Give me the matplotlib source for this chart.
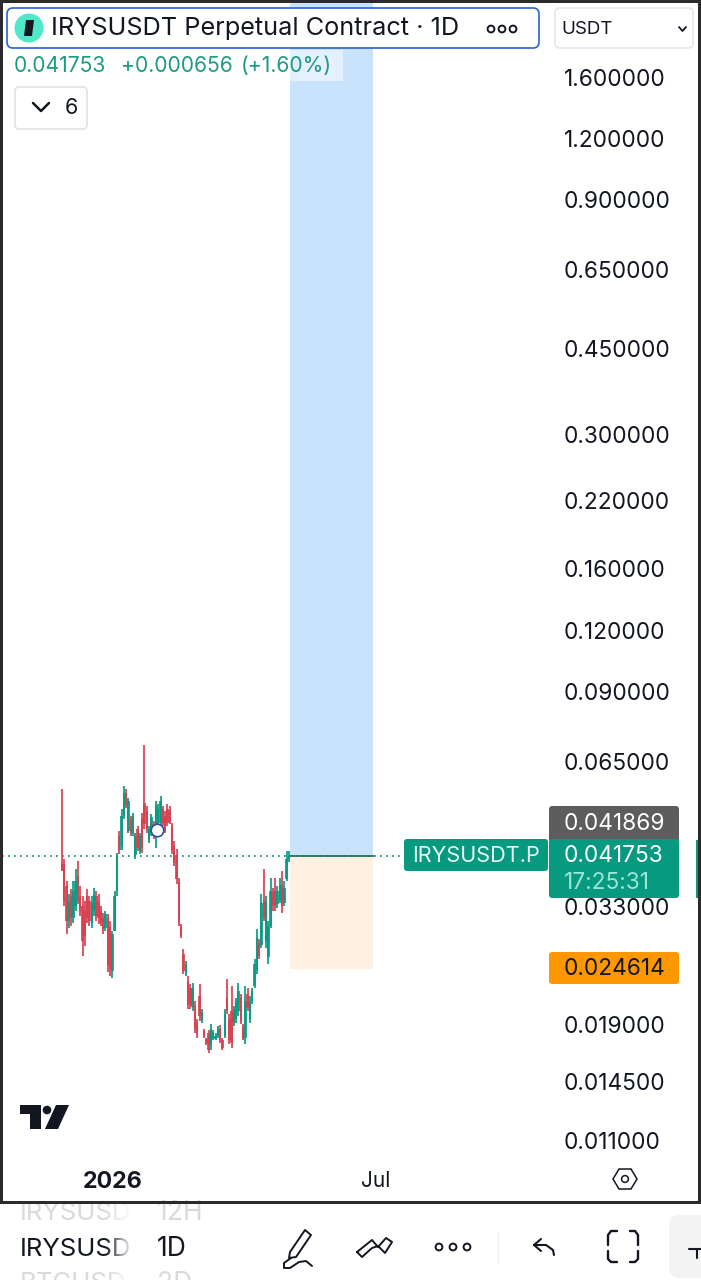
# libraries
import numpy as np
import matplotlib
matplotlib.use('Agg')
import matplotlib.pyplot as plt
from matplotlib.patches import FancyBboxPatch, Rectangle, Circle, Polygon

plt.rcParams['font.family'] = ['Inter', 'DejaVu Sans']

# Data
highs = [.0572,.0412,.0371,.0349,.0357,.0371,.0393,.0408,.0362,.0346,
         .0338,.0357,.0346,.0346,.0359,.0354,.0349,.0330,.0320,.0323,
         .0318,.0308,.0294,.0354,.0424,.0469,.0521,.0580,.0572,.0548,
         .0504,.0511,.0464,.0480,.0464,.0511,.0702,.0528,.0480,.0509,
         .0492,.0540,.0533,.0553,.0528,.0516,.0533,.0528,.0487,.0448,
         .0432,.0376,.0304,.0270,.0255,.0238,.0229,.0230,.0212,.0195,
         .0229,.0204,.0186,.0178,.0185,.0190,.0185,.0182,.0188,.0189,
         .0178,.0204,.0235,.0199,.0227,.0207,.0215,.0230,.0219,.0190,
         .0227,.0225,.0217,.0225,.0258,.0297,.0283,.0349,.0393,.0346,
         .0308,.0376,.0359,.0376,.0362,.0376,.0389,.0371,.0428,.0428]
lows = [.0389,.0330,.0290,.0298,.0301,.0305,.0323,.0333,.0315,.0261,
        .0274,.0305,.0301,.0298,.0315,.0308,.0304,.0301,.0290,.0294,
        .0242,.0238,.0236,.0294,.0354,.0422,.0438,.0497,.0523,.0464,
        .0458,.0458,.0412,.0428,.0422,.0424,.0474,.0464,.0444,.0458,
        .0452,.0434,.0469,.0480,.0480,.0464,.0480,.0485,.0422,.0398,
        .0366,.0301,.0284,.0240,.0238,.0204,.0204,.0202,.0182,.0178,
        .0193,.0191,.0178,.0172,.0166,.0168,.0176,.0176,.0178,.0174,
        .0168,.0178,.0199,.0173,.0170,.0188,.0191,.0197,.0190,.0176,
        .0173,.0202,.0191,.0209,.0225,.0240,.0258,.0271,.0308,.0271,
        .0252,.0298,.0323,.0323,.0327,.0335,.0320,.0330,.0371,.0405]
opens = [.0402,.0402,.0362,.0308,.0346,.0312,.0330,.0380,.0346,.0330,
         .0323,.0346,.0338,.0305,.0323,.0346,.0338,.0323,.0312,.0298,
         .0312,.0300,.0244,.0294,.0346,.0458,.0430,.0504,.0560,.0470,
         .0497,.0464,.0420,.0474,.0428,.0497,.0535,.0516,.0450,.0464,
         .0484,.0458,.0474,.0486,.0521,.0504,.0521,.0516,.0480,.0438,
         .0420,.0369,.0300,.0264,.0241,.0233,.0225,.0206,.0207,.0191,
         .0217,.0194,.0184,.0177,.0182,.0172,.0178,.0177,.0180,.0186,
         .0176,.0180,.0215,.0195,.0202,.0191,.0195,.0202,.0215,.0187,
         .0178,.0219,.0194,.0212,.0227,.0245,.0278,.0275,.0340,.0280,
         .0260,.0301,.0354,.0354,.0333,.0340,.0365,.0335,.0375,.0411]
closes = [.0390,.0338,.0308,.0338,.0312,.0354,.0371,.0338,.0323,.0280,
          .0287,.0312,.0308,.0335,.0350,.0315,.0312,.0305,.0297,.0318,
          .0250,.0246,.0290,.0346,.0415,.0430,.0504,.0560,.0530,.0540,
          .0464,.0504,.0458,.0433,.0458,.0433,.0485,.0474,.0474,.0500,
          .0458,.0528,.0521,.0540,.0486,.0470,.0486,.0490,.0430,.0404,
          .0375,.0306,.0287,.0244,.0252,.0208,.0208,.0225,.0186,.0181,
          .0197,.0201,.0180,.0174,.0168,.0186,.0183,.0180,.0186,.0176,
          .0170,.0199,.0202,.0176,.0174,.0204,.0212,.0222,.0193,.0178,
          .0212,.0205,.0212,.0222,.0252,.0284,.0261,.0335,.0312,.0338,
          .0301,.0354,.0330,.0330,.0354,.0365,.0330,.0360,.0411,.041753]

price_ticks = [1.6, 1.2, 0.9, 0.65, 0.45, 0.3, 0.22, 0.16, 0.12, 0.09,
               0.065, 0.033, 0.019, 0.0145, 0.011]
time_ticks = [22, 137]
time_labels = ['2026', 'Jul']

last_price = 0.041753
stop_price = 0.024614
green = '#089981'
red = '#d63f50'
frame = '#2b2b2b'

# plot
W, H = 701, 1280
fig = plt.figure(figsize=(W / 100, H / 100), dpi=100, facecolor='white')
ax = fig.add_axes([3 / W, 1 - 1201 / H, 695 / W, 1198 / H])

opens_a = np.array(opens)
closes_a = np.array(closes)
r = np.arange(len(opens))
colors = [green if c >= o else red for o, c in zip(opens, closes)]

ax.vlines(r, lows, highs, colors=colors, linewidth=1.5, alpha=0.85, zorder=3)
ax.bar(r, np.abs(closes_a - opens_a), bottom=np.minimum(opens_a, closes_a),
       width=1.05, color=colors, linewidth=0, alpha=0.85, zorder=3)

# long position box
box_x = [99.4, 135.6]
ax.fill_between(box_x, last_price, 3, color='#c8e3fb', linewidth=0, zorder=1)
ax.fill_between(box_x, stop_price, last_price, color='#fff1e2', linewidth=0, zorder=1)
ax.plot(box_x, [last_price, last_price], color='#2d6f62', lw=1.3, zorder=2)
ax.plot([-26, 149], [last_price, last_price], color='#0b7f6c', lw=1.2, ls=(0, (1, 2.6)), zorder=2)
ax.plot([41.4], [0.0471], marker='o', ms=9, mfc='white', mec='#2a4fb0', mew=1.2, zorder=4)

ax.set_yscale('log')
ax.set_xlim(-25.7, 277.4)
ax.set_ylim(0.0083, 2.263)
ax.yaxis.tick_right()
ax.set_yticks(price_ticks)
ax.set_yticklabels(['%.6f' % p for p in price_ticks])
ax.yaxis.set_minor_locator(matplotlib.ticker.NullLocator())
ax.tick_params(axis='y', length=0, pad=-96.5, labelsize=16.3, labelcolor='#131722')
ax.set_xticks(time_ticks)
ax.set_xticklabels(time_labels)
ax.tick_params(axis='x', length=0, pad=-21.5, labelsize=15, labelcolor='#131722')
ax.get_xticklabels()[0].set_fontweight('bold')
ax.get_xticklabels()[0].set_fontsize(16.7)
for s in ax.spines.values():
    s.set_visible(False)

# overlay in pixels for the app chrome
ui = fig.add_axes([0, 0, 1, 1], zorder=10)
ui.set_xlim(0, W)
ui.set_ylim(H, 0)
ui.axis('off')
ui.patch.set_alpha(0)


def rbox(x0, y0, x1, y1, fc='white', ec='none', lw=1, rad=4, z=5, alpha=None):
    ui.add_patch(FancyBboxPatch((x0 + rad, y0 + rad), x1 - x0 - 2 * rad, y1 - y0 - 2 * rad,
                                boxstyle='round,pad=%d' % rad, fc=fc, ec=ec, lw=lw, zorder=z, alpha=alpha))


def label(x, y, s, size=16, color='#131722', ha='left', z=6, **kw):
    ui.text(x, y + 1, s, fontsize=size, color=color, ha=ha, va='center', zorder=z, **kw)


def stroke(xs, ys, lw=1.6, color='#131722', z=6):
    ui.plot(xs, ys, color=color, lw=lw, zorder=z, solid_capstyle='round', solid_joinstyle='round')


# header
rbox(7, 8, 539, 48, ec='#3b6ccf', lw=1.3, rad=6)
ui.add_patch(Circle((29, 28), 14.5, fc='#4fe8c8', ec='none', zorder=6))
ui.add_patch(Polygon([[26, 20], [34, 20], [32, 36], [24, 36]], fc='#131722', ec='none', zorder=7))
label(51, 28, 'IRYSUSDT Perpetual Contract · 1D', size=18.2)
for cx in (491, 502, 513):
    ui.add_patch(Circle((cx, 29), 3.4, fc='white', ec='#131722', lw=1.4, zorder=6))
rbox(555, 8, 693, 48, ec='#e0e3eb', lw=1, rad=5)
label(561, 28, 'USDT', size=13.5)
stroke([679, 682.5, 686], [27, 31, 27], lw=1.3)

# legend line
ui.add_patch(Rectangle((290, 50), 53, 31, fc='#e4f1fd', ec='none', zorder=4))
label(14, 65, '0.041753', size=15.2, color='#1f9a83')
label(121, 65, '+0.000656', size=15.2, color='#1f9a83')
label(241, 65, '(+1.60%)', size=15.2, color='#1f9a83')
rbox(15, 87, 87, 129, ec='#dfe1e6', lw=1.2, rad=4)
stroke([33, 41, 49], [103, 111, 103], lw=1.8)
label(65, 107, '6', size=15.5)

# price tags
rbox(549, 806, 679, 842, fc='#5d5d5d', rad=3)
label(564, 823, '0.041869', size=16.3, color='white')
rbox(549, 839, 679, 898, fc=green, rad=3)
label(564, 855, '0.041753', size=16.3, color='white')
label(564, 882, '17:25:31', size=16.3, color='#9be6d6')
rbox(404, 839, 548, 871, fc=green, rad=3)
label(412, 855, 'IRYSUSDT.P', size=15.6, color='#e6f7f3')
rbox(549, 952, 679, 984, fc='#ff9800', rad=3)
label(564, 968, '0.024614', size=16.3)
ui.add_patch(Rectangle((696, 840), 2, 58, fc=green, ec='none', zorder=5))

# watermark logo
ui.add_patch(Polygon([[20, 1105], [41, 1105], [41, 1129], [30, 1129], [30, 1114], [20, 1114]],
                     fc='#131722', ec='none', zorder=6))
ui.add_patch(Circle((47, 1110), 4.3, fc='#131722', ec='none', zorder=6))
ui.add_patch(Polygon([[56, 1105], [69, 1105], [58, 1129], [45, 1129]], fc='#131722', ec='none', zorder=6))

# settings hexagon
ui.add_patch(Polygon([[613, 1179], [619, 1169], [631, 1169], [637, 1179], [631, 1189], [619, 1189]],
                     fc='none', ec='#131722', lw=1.1, zorder=6))
ui.add_patch(Circle((625, 1179), 3.4, fc='none', ec='#131722', lw=1.1, zorder=6))

# bottom toolbar
label(20, 1212, 'IRYSUSD', size=18.5, color='#d9dadd')
label(157, 1212, '12H', size=19, color='#d9dadd')
label(20, 1248, 'IRYSUSD', size=18.5)
label(157, 1248, '1D', size=19)
label(20, 1283, 'BTCUSD', size=18.5, color='#d9dadd')
label(157, 1283, '2D', size=19, color='#d9dadd')
fade = np.ones((1, 30, 4))
fade[0, :, 3] = np.linspace(0, 1, 30)
ui.imshow(fade, extent=[105, 133, 1295, 1204], aspect='auto', zorder=7)
ui.add_patch(Rectangle((133, 1204), 20, 90, fc='white', ec='none', zorder=7))
ui.set_xlim(0, W)
ui.set_ylim(H, 0)

# pencil
ui.add_patch(Polygon([[290, 1252], [305, 1230], [311, 1235], [296, 1257], [289, 1258]],
                     fc='none', ec='#131722', lw=1.4, joinstyle='round', zorder=6))
stroke([291, 284, 284, 290, 299, 306, 312], [1258, 1263, 1268, 1268, 1262, 1261, 1266], lw=1.4)
# multi lines
stroke([357, 372, 378, 386, 392, 385, 378, 372, 362, 357],
       [1252, 1240, 1247, 1238, 1242, 1253, 1246, 1248, 1257, 1252], lw=1.4)
# dots
for cx in (439, 453, 467):
    ui.add_patch(Circle((cx, 1247), 3.4, fc='white', ec='#131722', lw=1.4, zorder=6))
ui.plot([498, 498], [1232, 1262], color='#f0f0f2', lw=1, zorder=6)
# undo
stroke([541, 534, 541], [1239, 1245, 1251], lw=1.5)
stroke([534, 546, 553, 554], [1245, 1245, 1250, 1255], lw=1.5)
# fullscreen corners
stroke([608, 608, 611, 617], [1245, 1235, 1231, 1231], lw=1.7)
stroke([630, 635, 638, 638], [1231, 1231, 1235, 1245], lw=1.7)
stroke([608, 608, 611, 617], [1251, 1259, 1262, 1262], lw=1.7)
stroke([638, 638, 635, 630], [1251, 1259, 1262, 1262], lw=1.7)
# side button
rbox(669, 1215, 720, 1278, fc='#f3f3f4', rad=10)
stroke([689, 701], [1249, 1249], lw=1.5)
stroke([697, 697], [1249, 1258], lw=1.5)

# frame
ui.add_patch(Rectangle((0, 0), W, 3, fc=frame, ec='none', zorder=9))
ui.add_patch(Rectangle((0, 0), 3, 1204, fc=frame, ec='none', zorder=9))
ui.add_patch(Rectangle((698, 0), 3, 1204, fc=frame, ec='none', zorder=9))
ui.add_patch(Rectangle((0, 1201), W, 3, fc=frame, ec='none', zorder=9))

plt.savefig('out.png', dpi=100)
